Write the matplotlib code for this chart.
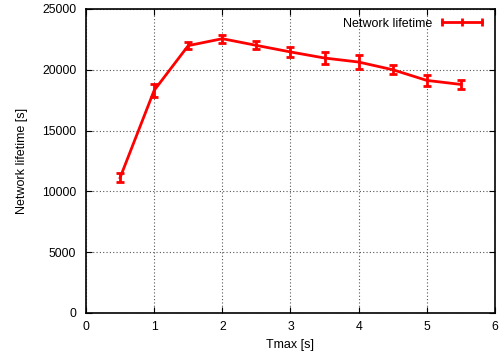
import matplotlib.pyplot as plt
from matplotlib.lines import Line2D

plt.rcParams["font.family"] = ["Liberation Sans", "DejaVu Sans"]

# Network lifetime vs Tmax, mean and spread
tmax = [0.5, 1.0, 1.5, 2.0, 2.5, 3.0, 3.5, 4.0, 4.5, 5.0, 5.5]
lifetime = [11120, 18300, 21980, 22550, 22000, 21460, 20960, 20630, 20000, 19120, 18790]
lifetime_err = [390, 550, 300, 340, 330, 400, 500, 580, 380, 470, 380]

fig = plt.figure(figsize=(5.03, 3.56), dpi=100)
ax = fig.add_axes([0.171, 0.121, 0.813, 0.854])

ax.errorbar(tmax, lifetime, yerr=lifetime_err, color="red", lw=2,
            elinewidth=2, capsize=3, capthick=2)

ax.set_xlim(0, 6)
ax.set_ylim(0, 25000)
ax.set_xticks(range(0, 7))
ax.set_yticks(range(0, 25001, 5000))
ax.grid(True, color="#555555", linestyle=(0, (1, 2)), linewidth=0.8)
ax.tick_params(direction="in", top=True, right=True, labelsize=8.8, length=4)
ax.tick_params(axis="y", pad=7)
ax.tick_params(axis="x", pad=6)
for sp in ax.spines.values():
    sp.set_linewidth(1.2)

ax.set_xlabel("Tmax [s]", fontsize=9, labelpad=4)
ax.set_ylabel("Network lifetime [s]", fontsize=9, labelpad=10)

# gnuplot-like key sample: horizontal line with end ticks
key = Line2D([], [], color="red", lw=2, marker="|", markersize=6, mew=2)
ax.legend([key], ["Network lifetime"], loc="upper right", frameon=False,
          fontsize=9, markerfirst=False, numpoints=3, handlelength=3.8,
          handletextpad=0.5, borderaxespad=0.3)

fig.savefig("out.png", dpi=100)
